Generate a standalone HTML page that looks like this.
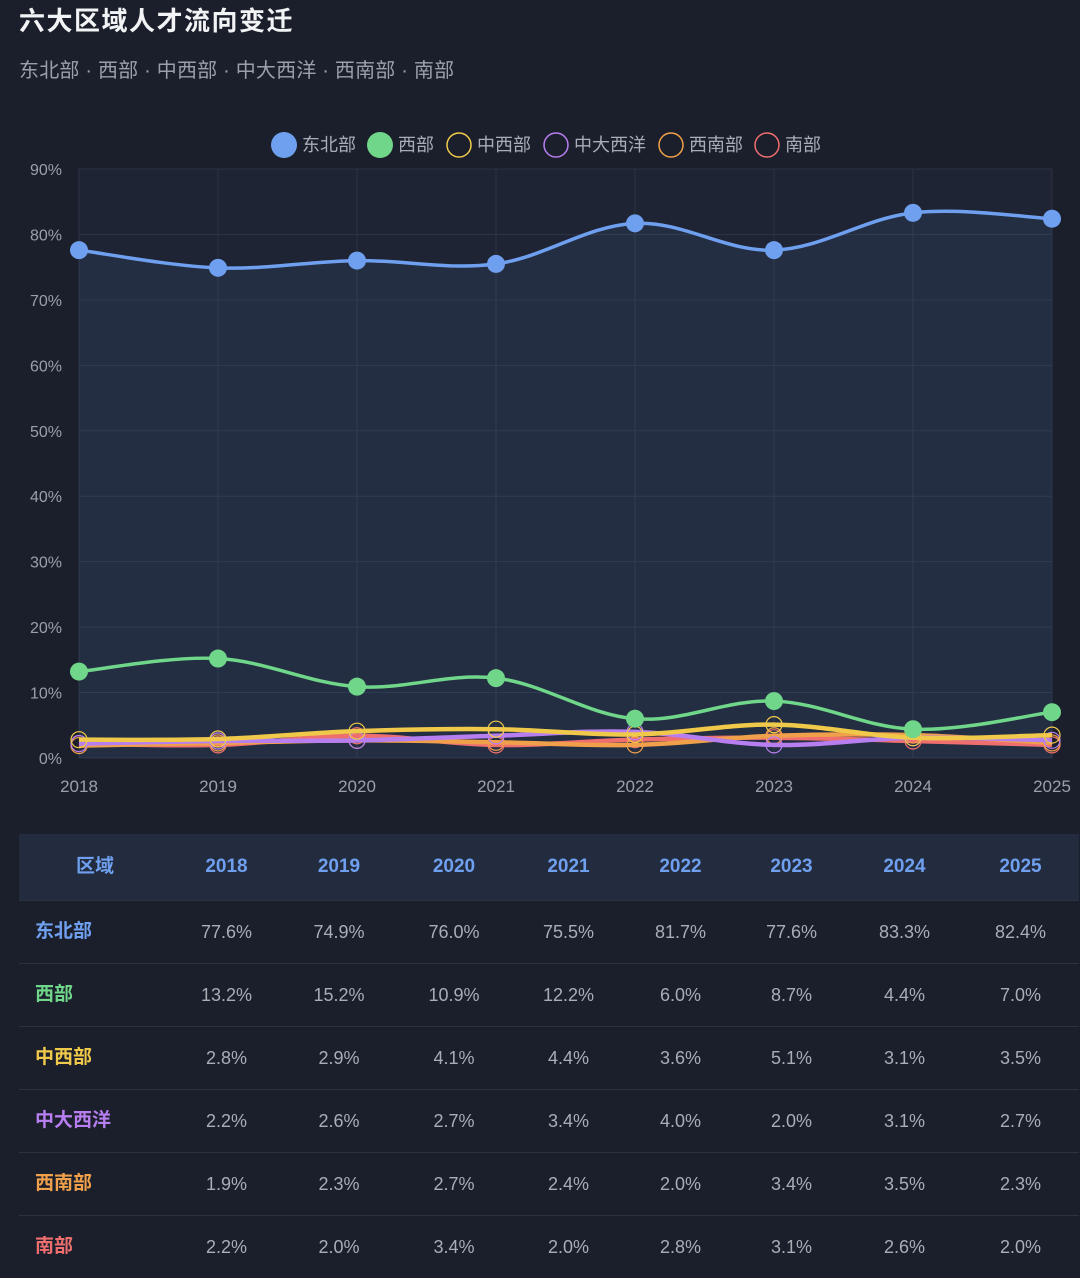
<!DOCTYPE html>
<html><head><meta charset="utf-8"><style>
body{margin:0;background:#1b1f2b;width:1080px;height:1274px;overflow:hidden;font-family:"Liberation Sans","Noto Sans CJK SC",sans-serif;}
#title{position:absolute;left:19px;top:1px;font-size:26px;font-weight:bold;color:#f2f3f5;letter-spacing:1.5px;}
#sub{position:absolute;left:19px;top:54px;font-size:20px;color:#9aa0ab;letter-spacing:0.2px;}
svg{position:absolute;left:0;top:0}
table{position:absolute;left:19px;top:834px;width:1060px;border-collapse:collapse;font-size:18px;table-layout:fixed;}
th{height:66px;padding:0;background:#232b3e;color:#6fa0f0;font-weight:bold;font-size:19px;line-height:20px;}
td{height:62px;padding:0;line-height:20px;text-align:center;color:#a8adb6;border-top:1px solid #2c3242;}
td.n{text-align:left;padding-left:16px;font-weight:bold;font-size:19px;}
</style></head><body>
<div id="title">六大区域人才流向变迁</div>
<div id="sub">东北部 · 西部 · 中西部 · 中大西洋 · 西南部 · 南部</div>
<svg id="chart" width="1080" height="820"></svg>
<table>
<colgroup><col style="width:152px"><col style="width:111px"><col style="width:114px"><col style="width:116px"><col style="width:113px"><col style="width:111px"><col style="width:111px"><col style="width:115px"><col style="width:117px"></colgroup>
<thead><tr id="hr"></tr></thead><tbody id="tb"></tbody></table>
<script>
const years=['2018','2019','2020','2021','2022','2023','2024','2025'];
const names=['东北部','西部','中西部','中大西洋','西南部','南部'];
const colors=['#6fa0f0','#6fd68a','#f0c94a','#b77ef0','#f0a04a','#ef6f6f'];
const sNE=[77.6,74.9,76.0,75.5,81.7,77.6,83.3,82.4];
const sW=[13.2,15.2,10.9,12.2,6.0,8.7,4.4,7.0];
const sMW=[2.8,2.9,4.1,4.4,3.6,5.1,3.1,3.5];
const sMA=[2.2,2.6,2.7,3.4,4.0,2.0,3.1,2.7];
const sSW=[1.9,2.3,2.7,2.4,2.0,3.4,3.5,2.3];
const sS=[2.2,2.0,3.4,2.0,2.8,3.1,2.6,2.0];
const series=[sNE,sW,sMW,sMA,sSW,sS];
const yTicks=[0,10,20,30,40,50,60,70,80,90];
const X=i=>79+i*(1052-79)/(years.length-1);
const Y=v=>758-v*(758-169)/90;
const svg=document.getElementById('chart');
const NS='http://www.w3.org/2000/svg';
function mk(t,a){const e=document.createElementNS(NS,t);for(const k in a)e.setAttribute(k,a[k]);svg.appendChild(e);return e;}
function path(pts){let d='M'+pts[0][0]+','+pts[0][1];for(let i=0;i<pts.length-1;i++){const p0=pts[Math.max(0,i-1)],p1=pts[i],p2=pts[i+1],p3=pts[Math.min(pts.length-1,i+2)];const t=0.35;d+=` C${p1[0]+(p2[0]-p0[0])*t/2},${p1[1]+(p2[1]-p0[1])*t/2} ${p2[0]-(p3[0]-p1[0])*t/2},${p2[1]-(p3[1]-p1[1])*t/2} ${p2[0]},${p2[1]}`;}return d;}
let r=mk('rect',{x:79,y:169,width:973,height:589,fill:'#1e2433'});

yTicks.forEach(v=>{let l=mk('line',{x1:79,x2:1052,y1:Y(v),y2:Y(v),stroke:'#2b3345','stroke-width':1});

let t=mk('text',{x:62,y:Y(v)+6,fill:'#9aa0ab','font-size':16,'text-anchor':'end'});t.textContent=v+'%';
});
years.forEach((y,i)=>{let l=mk('line',{x1:X(i),x2:X(i),y1:169,y2:758,stroke:'#2b3345'});

let t=mk('text',{x:X(i),y:792,fill:'#9aa0ab','font-size':17,'text-anchor':'middle'});t.textContent=y;
});
const ptsNE=sNE.map((v,i)=>[X(i),Y(v)]);
let ar=mk('path',{d:path(ptsNE)+` L${X(7)},758 L${X(0)},758 Z`,fill:'#6fa0f0','fill-opacity':0.08});

for(let s=series.length-1;s>=0;s--){const pts=series[s].map((v,i)=>[X(i),Y(v)]);
let p=mk('path',{d:path(pts),fill:'none',stroke:colors[s],'stroke-width':s<2?3.5:4.5});

pts.forEach(q=>{let c=mk('circle',{cx:q[0],cy:q[1],r:s<2?9:8,fill:s<2?colors[s]:'none',stroke:colors[s],'stroke-width':s<2?0:1.2});
});}
const lx=[284,380,459,556,671,767];
names.forEach((n,i)=>{let c=mk('circle',{cx:lx[i],cy:145,r:i<2?13:12,fill:i<2?colors[i]:'none',stroke:colors[i],'stroke-width':i<2?0:1.5});

let t=mk('text',{x:lx[i]+18,y:151,fill:'#a8adb6','font-size':18});t.textContent=n;
});
const hr=document.getElementById('hr');
['区域'].concat(years).forEach(h=>{const th=document.createElement('th');th.textContent=h;
hr.appendChild(th);});
const tb=document.getElementById('tb');
names.forEach((n,s)=>{const tr=document.createElement('tr');

const td=document.createElement('td');td.className='n';td.style.color=colors[s];td.textContent=n;
tr.appendChild(td);
series[s].forEach(v=>{const c=document.createElement('td');c.textContent=v.toFixed(1)+'%';
tr.appendChild(c);});
tb.appendChild(tr);});
</script></body></html>
